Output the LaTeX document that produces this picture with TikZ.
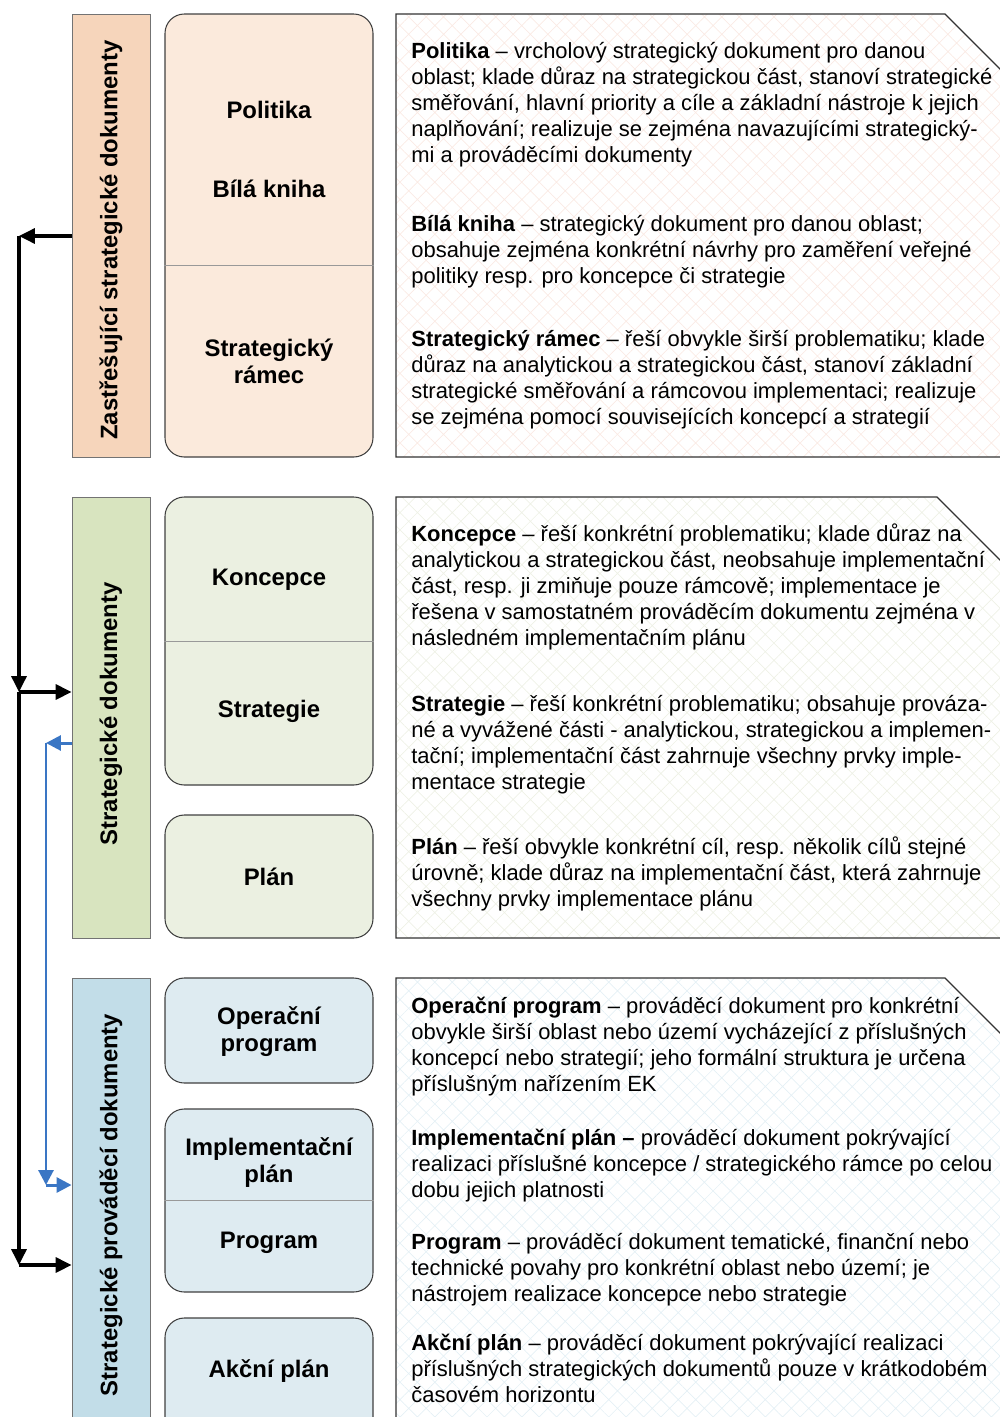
\documentclass[tikz,border=0pt]{standalone}
\usepackage{fontspec}
\setmainfont{Liberation Sans}
\usepackage{xcolor}
\usetikzlibrary{arrows.meta,positioning,fit,patterns.meta}

\definecolor{barOrange}{HTML}{F6D5BB}
\definecolor{boxOrange}{HTML}{FBEADC}
\definecolor{hatchOrange}{HTML}{FAEAE4}
\definecolor{barGreen}{HTML}{D8E4BF}
\definecolor{boxGreen}{HTML}{EBF0E1}
\definecolor{hatchGreen}{HTML}{EEF1E6}
\definecolor{barBlue}{HTML}{C2DDE8}
\definecolor{boxBlue}{HTML}{DEEBF1}
\definecolor{hatchBlue}{HTML}{E5F0F5}
\definecolor{linkBlue}{HTML}{3A76C4}

\newcommand{\firstline}{\rule{0pt}{12pt}}

\tikzset{
  bar/.style={draw=black!55, line width=0.5pt, inner sep=0pt},
  docbox/.style={draw=black!75, line width=0.6pt, rounded corners=11pt, inner sep=0pt},
  divider/.style={draw=black!40, line width=0.5pt},
  textbox/.style={draw=black!80, line width=0.7pt},
  doclabel/.style={font=\fontsize{13.6}{15.4}\selectfont\bfseries, align=center},
  barlabel/.style={font=\fontsize{13.6}{16}\selectfont\bfseries, rotate=90},
  desc/.style={font=\fontsize{12.5}{14.85}\selectfont, align=left, anchor=north west, inner sep=0pt},
  arr/.style={line width=1.8pt, -{Triangle[length=9pt,width=8.5pt]}},
  barr/.style={line width=1.7pt, draw=linkBlue, linkBlue, -{Triangle[length=8.5pt,width=8.5pt]}},
}

\begin{document}
\begin{tikzpicture}[x=0.02cm, y=-0.02cm]
\useasboundingbox (0,0) rectangle (1000,1417);
\clip (0,0) rectangle (1000,1417);

% left bars
\node[bar, fill=barOrange, fit={(72,14) (150,457)}] (bar1) {};
\node[bar, fill=barGreen, fit={(72,497) (150,938)}] (bar2) {};
\node[bar, fill=barBlue, fit={(72,978) (150,1440)}] (bar3) {};
\node[barlabel] (bar1lab) at (111,240) {Zastřešující strategické dokumenty};
\node[barlabel] (bar2lab) at (111,714) {Strategické dokumenty};
\node[barlabel] (bar3lab) at (111,1205) {Strategické prováděcí dokumenty};

% document boxes
\node[docbox, fill=boxOrange, fit={(165,14) (373,457)}] (mid1) {};
\node[docbox, fill=boxGreen, fit={(165,497) (373,785)}] (mid2) {};
\node[docbox, fill=boxGreen, fit={(165,815) (373,938)}] (mid3) {};
\node[docbox, fill=boxBlue, fit={(165,978) (373,1083)}] (mid4) {};
\node[docbox, fill=boxBlue, fit={(165,1109) (373,1292)}] (mid5) {};
\node[docbox, fill=boxBlue, fit={(165,1318) (373,1450)}] (mid6) {};
\draw[divider] (mid1.west |- 0,265) -- (mid1.east |- 0,265);
\draw[divider] (mid2.west |- 0,641) -- (mid2.east |- 0,641);
\draw[divider] (mid5.west |- 0,1200) -- (mid5.east |- 0,1200);

\node[doclabel] (politika) at (269,110) {Politika};
\node[doclabel] (bila) at (269,189) {Bílá kniha};
\node[doclabel] (ramec) at (269,361) {Strategický\\rámec};
\node[doclabel] (koncepce) at (269,580) {Koncepce};
\node[doclabel] (strategie) at (269,711) {Strategie};
\node[doclabel] (plan) at (269,877) {Plán};
\node[doclabel] (operacni) at (269,1032) {Operační\\program};
\node[doclabel] (implplan) at (269,1163) {Implementační\\plán};
\node[doclabel] (program) at (269,1243) {Program};
\node[doclabel] (akcni) at (269,1371) {Akční plán};

% description boxes
\draw[textbox, pattern={Hatch[angle=45,distance=7pt,line width=0.4pt]}, pattern color=hatchOrange]
  (396,14) -- (945,14) -- (1010,79) -- (1010,457) -- (396,457) -- cycle;
\draw[textbox, pattern={Hatch[angle=45,distance=7pt,line width=0.4pt]}, pattern color=hatchGreen]
  (396,497) -- (937,497) -- (1010,570) -- (1010,938) -- (396,938) -- cycle;
\draw[textbox, pattern={Hatch[angle=45,distance=7pt,line width=0.4pt]}, pattern color=hatchBlue]
  (396,978) -- (945,978) -- (1010,1043) -- (1010,1450) -- (396,1450) -- cycle;

% text top = first baseline - 12pt (21px)
\node[desc] (d-politika) at (411,37) {\firstline\textbf{Politika} – vrcholový strategický dokument pro danou\\
oblast; klade důraz na strategickou část, stanoví strategické\\
směřování, hlavní priority a cíle a základní nástroje k jejich\\
naplňování; realizuje se zejména navazujícími strategický-\\
mi a prováděcími dokumenty};
\node[desc] (d-bila) at (411,210) {\firstline\textbf{Bílá kniha} – strategický dokument pro danou oblast;\\
obsahuje zejména konkrétní návrhy pro zaměření veřejné\\
politiky resp. pro koncepce či strategie};
\node[desc] (d-ramec) at (411,325) {\firstline\textbf{Strategický rámec} – řeší obvykle širší problematiku; klade\\
důraz na analytickou a strategickou část, stanoví základní\\
strategické směřování a rámcovou implementaci; realizuje\\
se zejména pomocí souvisejících koncepcí a strategií};
\node[desc] (d-koncepce) at (411,520) {\firstline\textbf{Koncepce} – řeší konkrétní problematiku; klade důraz na\\
analytickou a strategickou část, neobsahuje implementační\\
část, resp. ji zmiňuje pouze rámcově; implementace je\\
řešena v samostatném prováděcím dokumentu zejména v\\
následném implementačním plánu};
\node[desc] (d-strategie) at (411,690) {\firstline\textbf{Strategie} – řeší konkrétní problematiku; obsahuje prováza-\\
né a vyvážené části - analytickou, strategickou a implemen-\\
tační; implementační část zahrnuje všechny prvky imple-\\
mentace strategie};
\node[desc] (d-plan) at (411,833) {\firstline\textbf{Plán} – řeší obvykle konkrétní cíl, resp. několik cílů stejné\\
úrovně; klade důraz na implementační část, která zahrnuje\\
všechny prvky implementace plánu};
\node[desc] (d-operacni) at (411,992) {\firstline\textbf{Operační program} – prováděcí dokument pro konkrétní\\
obvykle širší oblast nebo území vycházející z příslušných\\
koncepcí nebo strategií; jeho formální struktura je určena\\
příslušným nařízením EK};
\node[desc] (d-implplan) at (411,1124) {\firstline\textbf{Implementační plán –} prováděcí dokument pokrývající\\
realizaci příslušné koncepce / strategického rámce po celou\\
dobu jejich platnosti};
\node[desc] (d-program) at (411,1228) {\firstline\textbf{Program} – prováděcí dokument tematické, finanční nebo\\
technické povahy pro konkrétní oblast nebo území; je\\
nástrojem realizace koncepce nebo strategie};
\node[desc] (d-akcni) at (411,1329) {\firstline\textbf{Akční plán} – prováděcí dokument pokrývající realizaci\\
příslušných strategických dokumentů pouze v krátkodobém\\
časovém horizontu};

% connectors
\coordinate (j1) at (19,236);
\coordinate (j2) at (19,692);
\coordinate (j3) at (19,1265);
\draw[arr] (bar1.west |- j1) -- (j1);
\draw[arr] (j1) -- (j2);
\draw[arr] (j2) -- (bar2.west |- j2);
\draw[arr] (j2) -- (j3);
\draw[arr] (j3) -- (bar3.west |- j3);

\coordinate (b1) at (46,743);
\coordinate (b2) at (46,1185);
\draw[barr] (bar2.west |- b1) -- (b1);
\draw[barr] (b1) -- (b2);
\draw[barr] (b2) -- (bar3.west |- b2);
\end{tikzpicture}
\end{document}
